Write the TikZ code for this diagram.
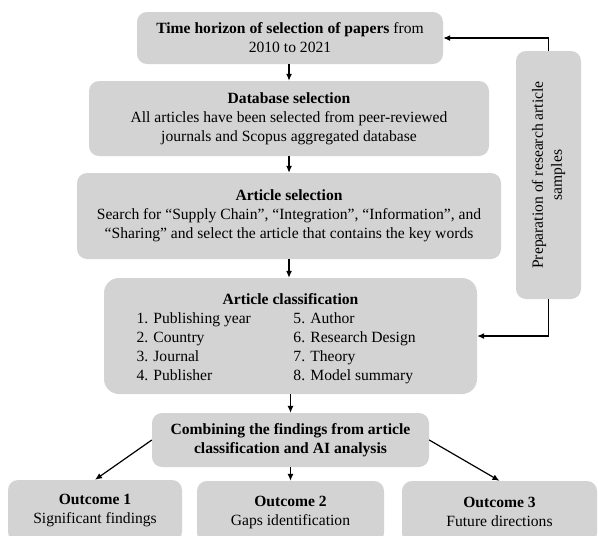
\documentclass[tikz,border=0pt]{standalone}
\usepackage{fontspec}
\setmainfont{Liberation Serif}
\usetikzlibrary{arrows.meta}
\definecolor{boxgray}{RGB}{211,211,211}

\begin{document}
\begin{tikzpicture}[x=1pt,y=-1pt,
    box/.style={fill=boxgray, rounded corners=10pt, align=center, inner sep=0pt,
      font=\fontsize{15.6}{19}\selectfont},
    arrow/.style={-{Latex[length=7pt,width=6pt]}, line width=1.2pt}]

    \clip (0,0) rectangle (598,536);

    %%%%%%%%%%%%%%%%%%
    %%%%% Column %%%%%
    %%%%%%%%%%%%%%%%%%
    \node[box, minimum width=306, minimum height=52] (time) at (290,38)
      {\textbf{Time horizon of selection of papers} from\\2010 to 2021};
    \node[box, minimum width=400, minimum height=75] (database) at (289,118.5)
      {\textbf{Database selection}\\All articles have been selected from peer-reviewed\\journals and Scopus aggregated database};
    \node[box, minimum width=424, minimum height=86] (selection) at (289,216)
      {\textbf{Article selection}\\Search for “Supply Chain”, “Integration”, “Information”, and\\“Sharing” and select the article that contains the key words};
    \node[box, rounded corners=15pt, minimum width=373, minimum height=116] (classif) at (290.5,336)
      {\rule{0pt}{19pt}\textbf{Article classification}\\
       \begin{tabular}[t]{@{}p{157pt}@{}p{151pt}@{}}
         1. Publishing year & 5. Author\\
         2. Country & 6. Research Design\\
         3. Journal & 7. Theory\\
         4. Publisher & 8. Model summary
       \end{tabular}};
    \node[box, minimum width=277, minimum height=54] (combine) at (290.5,440)
      {\textbf{Combining the findings from article}\\\textbf{classification and AI analysis}};

    % Side box
    \node[box, minimum width=65, minimum height=248] (prep) at (548.5,175)
      {\rotatebox{90}{\begin{tabular}{@{}c@{}}Preparation of research article\\samples\end{tabular}}};

    %%%%%%%%%%%%%%%%%%%
    %%%%% Outcome %%%%%
    %%%%%%%%%%%%%%%%%%%
    \node[box, minimum width=174, minimum height=62] (out1) at (95,511)
      {\textbf{Outcome 1}\\Significant findings};
    \node[box, minimum width=187, minimum height=62] (out2) at (290.5,512)
      {\textbf{Outcome 2}\\Gaps identification};
    \node[box, minimum width=195, minimum height=62] (out3) at (499.5,512)
      {\textbf{Outcome 3}\\Future directions};

    % Arrows down the column
    \draw[arrow] (time.south -| database.north) -- (database.north);
    \draw[arrow] (database) -- (database.north |- selection.north);
    \draw[arrow] (selection.south) -- (selection.south |- classif.north);
    \draw[arrow] (classif.south) -- (classif.south |- combine.north);
    \draw[arrow] (combine.south) -- (out2.north);

    % Arrows to the outcomes
    \draw[arrow] (combine.west) -- (out1.north);
    \draw[arrow] (combine.east) -- (out3.north);

    % Feedback from the side box
    \draw[arrow] (prep.north) |- (time.east);
    \draw[arrow] (prep.south) |- (classif.east);

\end{tikzpicture}
\end{document}
